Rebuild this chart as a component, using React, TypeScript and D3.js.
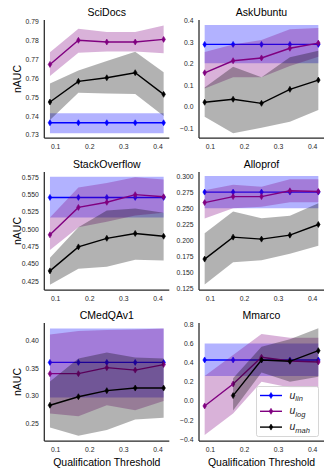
import React from "react";
import * as d3 from "d3";

// qualification thresholds (x) and tick labels
const thresholds = [0.0833, 0.1667, 0.25, 0.3333, 0.4167];
const xTicks = [0.1, 0.2, 0.3, 0.4];

// SciDocs
const sciLin = [0.7365, 0.7365, 0.7365, 0.7365, 0.7365];
const sciLinLo = [0.7309, 0.7309, 0.7309, 0.7309, 0.7309];
const sciLinHi = [0.7415, 0.7415, 0.7415, 0.7415, 0.7415];
const sciLog = [0.7675, 0.7803, 0.7794, 0.7794, 0.7808];
const sciLogLo = [0.7613, 0.7737, 0.7744, 0.7744, 0.7734];
const sciLogHi = [0.7739, 0.7865, 0.7847, 0.7847, 0.7882];
const sciMah = [0.7475, 0.7585, 0.7604, 0.7631, 0.7516];
const sciMahLo = [0.738, 0.7525, 0.7521, 0.7518, 0.7401];
const sciMahHi = [0.7574, 0.7643, 0.7693, 0.7742, 0.7634];
const sciTicks = [0.73, 0.74, 0.75, 0.76, 0.77, 0.78, 0.79];

// AskUbuntu
const askLin = [0.29, 0.29, 0.29, 0.29, 0.29];
const askLinLo = [0.202, 0.202, 0.202, 0.202, 0.202];
const askLinHi = [0.38, 0.38, 0.38, 0.38, 0.38];
const askLog = [0.158, 0.214, 0.227, 0.272, 0.296];
const askLogLo = [0.085, 0.137, 0.137, 0.19, 0.232];
const askLogHi = [0.255, 0.29, 0.31, 0.36, 0.366];
const askMah = [0.021, 0.035, 0.016, 0.081, 0.124];
const askMahLo = [-0.046, -0.123, -0.097, -0.069, -0.015];
const askMahHi = [0.09, 0.186, 0.137, 0.23, 0.26];
const askTicks = [-0.1, 0.0, 0.1, 0.2, 0.3, 0.4];

// StackOverflow
const soLin = [0.546, 0.546, 0.546, 0.546, 0.546];
const soLinLo = [0.517, 0.517, 0.517, 0.517, 0.517];
const soLinHi = [0.576, 0.576, 0.576, 0.576, 0.576];
const soLog = [0.492, 0.5316, 0.539, 0.55, 0.547];
const soLogLo = [0.47, 0.503, 0.511, 0.52, 0.524];
const soLogHi = [0.517, 0.5605, 0.567, 0.575, 0.572];
const soMah = [0.44, 0.4746, 0.487, 0.494, 0.49];
const soMahLo = [0.42, 0.443, 0.446, 0.456, 0.455];
const soMahHi = [0.459, 0.503, 0.527, 0.53, 0.524];
const soTicks = [0.425, 0.45, 0.475, 0.5, 0.525, 0.55, 0.575];

// Alloprof
const alloLin = [0.276, 0.276, 0.276, 0.276, 0.276];
const alloLinLo = [0.251, 0.251, 0.251, 0.251, 0.251];
const alloLinHi = [0.301, 0.301, 0.301, 0.301, 0.301];
const alloLog = [0.2596, 0.269, 0.269, 0.278, 0.277];
const alloLogLo = [0.235, 0.251, 0.253, 0.26, 0.26];
const alloLogHi = [0.279, 0.2876, 0.2845, 0.296, 0.296];
const alloMah = [0.1716, 0.2058, 0.2027, 0.2089, 0.2255];
const alloMahLo = [0.132, 0.1665, 0.1696, 0.18, 0.1923];
const alloMahHi = [0.212, 0.2457, 0.2353, 0.239, 0.2586];
const alloTicks = [0.125, 0.15, 0.175, 0.2, 0.225, 0.25, 0.275, 0.3];

// CMedQAv1
const cmedLin = [0.361, 0.361, 0.361, 0.361, 0.361];
const cmedLinLo = [0.297, 0.297, 0.297, 0.297, 0.297];
const cmedLinHi = [0.423, 0.423, 0.423, 0.423, 0.423];
const cmedLog = [0.3405, 0.3405, 0.3514, 0.347, 0.357];
const cmedLogLo = [0.268, 0.263, 0.283, 0.274, 0.2906];
const cmedLogHi = [0.412, 0.418, 0.42, 0.421, 0.423];
const cmedMah = [0.283, 0.2985, 0.3095, 0.3143, 0.3143];
const cmedMahLo = [0.2426, 0.2275, 0.238, 0.2572, 0.26];
const cmedMahHi = [0.326, 0.368, 0.379, 0.37, 0.368];
const cmedTicks = [0.25, 0.3, 0.35, 0.4];

// Mmarco
const mmLin = [0.428, 0.428, 0.428, 0.428, 0.428];
const mmLinLo = [0.261, 0.261, 0.261, 0.261, 0.261];
const mmLinHi = [0.6, 0.6, 0.6, 0.6, 0.6];
const mmLog = [-0.052, 0.177, 0.456, 0.417, 0.407];
const mmLogLo = [-0.355, -0.13, 0.2, 0.14, 0.14];
const mmLogHi = [0.26, 0.48, 0.7, 0.66, 0.66];
const mmMah = [null, 0.056, 0.428, 0.414, 0.525];
const mmMahLo = [null, -0.1, 0.296, 0.2, 0.254];
const mmMahHi = [null, 0.236, 0.567, 0.643, 0.758];
const mmTicks = [-0.4, -0.2, 0.0, 0.2, 0.4, 0.6, 0.8];

const seriesNames = ["lin", "log", "mah"];
const seriesColors = ["#0000ff", "#800080", "#000000"];

const panels = [
  { title: "SciDocs", row: 0, col: 0, y: [0.7284, 0.7911], ticks: sciTicks, fmt: ".2f",
    s: [[sciLin, sciLinLo, sciLinHi], [sciLog, sciLogLo, sciLogHi], [sciMah, sciMahLo, sciMahHi]] },
  { title: "AskUbuntu", row: 0, col: 1, y: [-0.145, 0.4033], ticks: askTicks, fmt: ".1f",
    s: [[askLin, askLinLo, askLinHi], [askLog, askLogLo, askLogHi], [askMah, askMahLo, askMahHi]] },
  { title: "StackOverflow", row: 1, col: 0, y: [0.4124, 0.5827], ticks: soTicks, fmt: ".3f",
    s: [[soLin, soLinLo, soLinHi], [soLog, soLogLo, soLogHi], [soMah, soMahLo, soMahHi]] },
  { title: "Alloprof", row: 1, col: 1, y: [0.1234, 0.3073], ticks: alloTicks, fmt: ".3f",
    s: [[alloLin, alloLinLo, alloLinHi], [alloLog, alloLogLo, alloLogHi], [alloMah, alloMahLo, alloMahHi]] },
  { title: "CMedQAv1", row: 2, col: 0, y: [0.2178, 0.4328], ticks: cmedTicks, fmt: ".2f",
    s: [[cmedLin, cmedLinLo, cmedLinHi], [cmedLog, cmedLogLo, cmedLogHi], [cmedMah, cmedMahLo, cmedMahHi]] },
  { title: "Mmarco", row: 2, col: 1, y: [-0.4177, 0.8136], ticks: mmTicks, fmt: ".1f",
    s: [[mmLin, mmLinLo, mmLinHi], [mmLog, mmLogLo, mmLogHi], [mmMah, mmMahLo, mmMahHi]] },
];

// layout (pixels)
const W = 332, H = 475;
const cols = [[44.3, 169.3], [199, 324]];
const rows = [[20, 138], [172, 290], [323, 441]];
const font = "'Liberation Sans', Arial, sans-serif";
const axisColor = "#262626";

function Marker({ x, y, color }) {
  return <path d={`M${x},${y - 3}L${x + 1.8},${y}L${x},${y + 3}L${x - 1.8},${y}Z`} fill={color} stroke={color} strokeWidth={0.6} />;
}

function Panel({ p }) {
  const [x0, x1] = cols[p.col];
  const [y0, y1] = rows[p.row];
  const x = d3.scaleLinear().domain([0.0667, 0.4333]).range([x0, x1]);
  const y = d3.scaleLinear().domain(p.y).range([y1, y0]);
  const fmt = d3.format(p.fmt);

  return (
    <g>
      {p.s.map((ser, si) => {
        const [mean, lo, hi] = ser;
        const pts = thresholds.map((t, i) => ({ t, m: mean[i], lo: lo[i], hi: hi[i] }));
        const area = d3.area()
          .defined((d) => d.lo != null)
          .x((d) => x(d.t)).y0((d) => y(d.lo)).y1((d) => y(d.hi));
        const line = d3.line()
          .defined((d) => d.m != null)
          .x((d) => x(d.t)).y((d) => y(d.m));
        const c = seriesColors[si];
        return (
          <g key={si}>
            <path d={area(pts)} fill={c} fillOpacity={0.3} stroke="none" />
            <path d={line(pts)} fill="none" stroke={c} strokeWidth={1.4} />
            {pts.filter((d) => d.m != null).map((d, i) => (
              <Marker key={i} x={x(d.t)} y={y(d.m)} color={c} />
            ))}
          </g>
        );
      })}
      {/* spines */}
      <line x1={x0} x2={x0} y1={y0} y2={y1} stroke={axisColor} strokeWidth={1.25} />
      <line x1={x0} x2={x1} y1={y1} y2={y1} stroke={axisColor} strokeWidth={1.25} />
      {p.ticks.map((t, i) => (
        <text key={i} x={x0 - 5.5} y={y(t)} dy="0.35em" textAnchor="end" fontSize={6.8} fill={axisColor} fontFamily={font}>
          {fmt(t)}
        </text>
      ))}
      {xTicks.map((t, i) => (
        <text key={i} x={x(t)} y={y1 + 11} textAnchor="middle" fontSize={6.8} fill={axisColor} fontFamily={font}>
          {d3.format(".1f")(t)}
        </text>
      ))}
      <text x={(x0 + x1) / 2} y={y0 - 4} textAnchor="middle" fontSize={10.5} fill="#000" fontFamily={font}>
        {p.title}
      </text>
      {p.col === 0 && (
        <text transform={`translate(17,${(y0 + y1) / 2}) rotate(-90)`} textAnchor="middle" dy="0.35em" fontSize={10.5} fill="#000" fontFamily={font}>
          nAUC
        </text>
      )}
      {p.row === 2 && (
        <text x={(x0 + x1) / 2} y={465.5} textAnchor="middle" fontSize={10.5} fill="#000" fontFamily={font}>
          Qualification Threshold
        </text>
      )}
    </g>
  );
}

function Legend() {
  const lx = 256.5, ly = 386.5;
  return (
    <g>
      <rect x={lx} y={ly} width={62} height={50} rx={2} fill="#fff" fillOpacity={0.8} stroke="#cccccc" strokeWidth={0.8} />
      {seriesNames.map((n, i) => {
        const yy = ly + 9 + i * 15.8;
        const c = seriesColors[i];
        return (
          <g key={n}>
            <line x1={lx + 3.5} x2={lx + 25.5} y1={yy} y2={yy} stroke={c} strokeWidth={1.4} />
            <Marker x={lx + 14.5} y={yy} color={c} />
            <text x={lx + 33} y={yy + 3} fontSize={10.5} fill="#262626" fontFamily={font} fontStyle="italic">
              u<tspan dy={2.6} fontSize={7.5}>{n}</tspan>
            </text>
          </g>
        );
      })}
    </g>
  );
}

export default function App() {
  return (
    <svg width={W} height={H} style={{ position: "absolute", left: 0, top: 0, background: "#fff" }}>
      {panels.map((p) => <Panel key={p.title} p={p} />)}
      <Legend />
    </svg>
  );
}
